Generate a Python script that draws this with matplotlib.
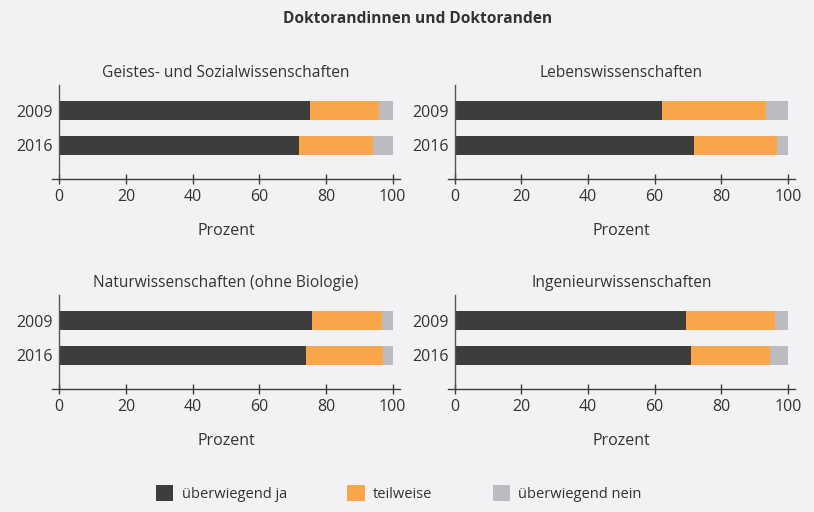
import matplotlib

matplotlib.use("Agg")

import matplotlib.pyplot as plt
import numpy as np

plt.rcParams["font.family"] = ["Open Sans", "DejaVu Sans"]

# Daten (Prozent)
jahre = ["2009", "2016"]
faecher = [
    "Geistes- und Sozialwissenschaften",
    "Lebenswissenschaften",
    "Naturwissenschaften (ohne Biologie)",
    "Ingenieurwissenschaften",
]
ueberwiegend_ja = [[75.2, 71.9], [62.2, 71.8], [75.8, 74.0], [69.4, 70.9]]
teilweise = [[20.8, 22.2], [31.2, 24.9], [21.0, 23.2], [26.8, 23.7]]
ueberwiegend_nein = [[4.0, 5.9], [6.6, 3.3], [3.2, 2.8], [3.8, 5.4]]
kategorien = ["überwiegend ja", "teilweise", "überwiegend nein"]

bg = "#f2f2f4"
dunkel = "#3d3d3d"
orange = "#f9a64a"
grau = "#bcbcc0"
textfarbe = "#333333"

fig = plt.figure(figsize=(8.14, 5.12), dpi=100, facecolor=bg)

W, H = 814, 512
lefts = [52.3, 447.7]
bottoms = [179, 389]
ax_w, ax_h = 347.7, 94

y = np.arange(len(jahre))
handles = None
for k, name in enumerate(faecher):
    row, col = divmod(k, 2)
    ax = fig.add_axes([lefts[col] / W, 1 - bottoms[row] / H, ax_w / W, ax_h / H])
    ax.set_facecolor(bg)
    ja = np.array(ueberwiegend_ja[k])
    tw = np.array(teilweise[k])
    nein = np.array(ueberwiegend_nein[k])
    b1 = ax.barh(y, ja, height=0.54, color=dunkel)
    b2 = ax.barh(y, tw, left=ja, height=0.54, color=orange)
    b3 = ax.barh(y, nein, left=ja + tw, height=0.54, color=grau)
    handles = [b1, b2, b3]

    ax.set_xlim(-2.1, 102.2)
    ax.set_ylim(1.96, -0.73)
    ax.set_xticks([0, 20, 40, 60, 80, 100])
    ax.set_yticks(y)
    ax.set_yticklabels(jahre)
    for s in ["top", "right"]:
        ax.spines[s].set_visible(False)
    ax.spines["left"].set_position(("data", 0))
    ax.spines["left"].set_color("#555555")
    ax.spines["bottom"].set_color(dunkel)
    ax.spines["left"].set_linewidth(1.0)
    ax.spines["bottom"].set_linewidth(1.0)
    ax.tick_params(axis="x", direction="inout", length=7, width=1.0,
                   color=dunkel, labelsize=11.5, labelcolor=textfarbe, pad=3.5)
    ax.tick_params(axis="y", length=0, labelsize=11.5, labelcolor=textfarbe, pad=4.5)
    ax.set_xlabel("Prozent", fontsize=11.5, color=textfarbe, labelpad=13)
    ax.set_title(name, fontsize=11.2, color=textfarbe, pad=6, x=(50 + 2.1) / 104.3)

fig.text(418 / W, 1 - 19.3 / H, "Doktorandinnen und Doktoranden",
         ha="center", va="center", fontsize=11.2, fontweight="bold", color=textfarbe)

fig.legend(handles, kategorien, loc="center", bbox_to_anchor=(398.8 / W, 1 - 493.3 / H),
           ncol=3, frameon=False, fontsize=10.5, labelcolor=textfarbe,
           handlelength=1.2, handleheight=1.3, handletextpad=0.55, columnspacing=4.15)

fig.savefig("out.png", dpi=100, facecolor=bg)
